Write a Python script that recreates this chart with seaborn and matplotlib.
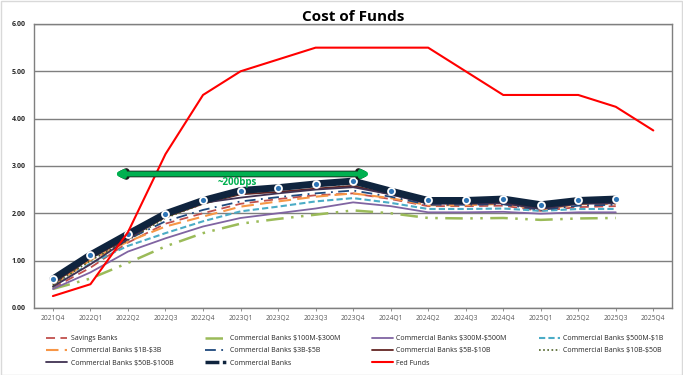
import numpy as np
import pandas as pd
import seaborn as sns
import matplotlib.pyplot as plt
from matplotlib.patches import FancyArrowPatch, Rectangle
from matplotlib.lines import Line2D

quarters = ['2021Q4', '2022Q1', '2022Q2', '2022Q3', '2022Q4', '2023Q1', '2023Q2', '2023Q3',
            '2023Q4', '2024Q1', '2024Q2', '2024Q3', '2024Q4', '2025Q1', '2025Q2', '2025Q3', '2025Q4']

savings_banks = [0.42, 0.85, 1.38, 1.78, 2.00, 2.20, 2.30, 2.38, 2.42, 2.30, 2.15, 2.15, 2.16, 2.05, 2.13, 2.15]
cb_100m_300m = [0.40, 0.62, 0.95, 1.30, 1.58, 1.78, 1.88, 1.97, 2.06, 2.00, 1.90, 1.89, 1.90, 1.86, 1.89, 1.90]
cb_300m_500m = [0.40, 0.75, 1.19, 1.47, 1.72, 1.90, 2.00, 2.10, 2.23, 2.15, 2.02, 2.02, 2.03, 1.99, 2.02, 2.02]
cb_500m_1b = [0.45, 0.94, 1.31, 1.58, 1.83, 2.04, 2.14, 2.25, 2.32, 2.22, 2.09, 2.09, 2.10, 2.05, 2.09, 2.09]
cb_1b_3b = [0.47, 1.01, 1.40, 1.72, 1.93, 2.14, 2.25, 2.35, 2.42, 2.32, 2.17, 2.17, 2.20, 2.08, 2.19, 2.20]
cb_3b_5b = [0.50, 1.05, 1.45, 1.83, 2.07, 2.25, 2.34, 2.42, 2.48, 2.35, 2.18, 2.18, 2.19, 2.07, 2.16, 2.18]
cb_5b_10b = [0.52, 1.05, 1.47, 1.92, 2.20, 2.40, 2.45, 2.52, 2.58, 2.40, 2.22, 2.22, 2.23, 2.10, 2.21, 2.23]
cb_10b_50b = [0.48, 1.00, 1.43, 1.90, 2.20, 2.42, 2.50, 2.58, 2.62, 2.44, 2.25, 2.25, 2.27, 2.14, 2.25, 2.27]
cb_50b_100b = [0.45, 0.92, 1.45, 1.95, 2.22, 2.33, 2.42, 2.50, 2.55, 2.40, 2.20, 2.20, 2.21, 2.09, 2.20, 2.21]
commercial_banks = [0.61, 1.12, 1.56, 1.99, 2.27, 2.48, 2.54, 2.62, 2.68, 2.47, 2.27, 2.27, 2.30, 2.18, 2.27, 2.30]
fed_funds = [0.25, 0.50, 1.60, 3.25, 4.50, 5.00, 5.25, 5.50, 5.50, 5.50, 5.50, 5.00, 4.50, 4.50, 4.50, 4.25, 3.75]

series = [
    ('Savings Banks', savings_banks, '#C0504D', (0, (5, 3)), 1.3),
    (r'Commercial Banks \$100M-\$300M', cb_100m_300m, '#9BBB59', (0, (7, 3, 1, 3, 1, 3)), 1.8),
    (r'Commercial Banks \$300M-\$500M', cb_300m_500m, '#8064A2', '-', 1.3),
    (r'Commercial Banks \$500M-\$1B', cb_500m_1b, '#4BACC6', (0, (3, 1.5)), 1.5),
    (r'Commercial Banks \$1B-\$3B', cb_1b_3b, '#F79646', (0, (6, 3)), 1.5),
    (r'Commercial Banks \$3B-\$5B', cb_3b_5b, '#1F497D', (0, (6, 3, 1, 3)), 1.3),
    (r'Commercial Banks \$5B-\$10B', cb_5b_10b, '#632523', '-', 1.3),
    (r'Commercial Banks \$10B-\$50B', cb_10b_50b, '#4F6228', (0, (1, 1.5)), 1.2),
    (r'Commercial Banks \$50B-\$100B', cb_50b_100b, '#403152', '-', 1.3),
]

sns.set_theme(style='white')
plt.rcParams['font.family'] = ['Open Sans', 'DejaVu Sans']

fig = plt.figure(figsize=(6.83, 3.75), dpi=100)
ax = fig.add_axes([0.050, 0.179, 0.934, 0.757])

for name, vals, color, ls, lw in series:
    df = pd.DataFrame({'x': np.arange(len(vals)), 'rate': vals})
    sns.lineplot(data=df, x='x', y='rate', ax=ax, color=color, linestyle=ls,
                 linewidth=lw, label=name, zorder=3)

df_cb = pd.DataFrame({'x': np.arange(len(commercial_banks)), 'rate': commercial_banks})
sns.lineplot(data=df_cb, x='x', y='rate', ax=ax, color='#0F243E', linestyle='-',
             linewidth=5, marker='o', markersize=5, markerfacecolor='#2E75B6',
             markeredgecolor='white', markeredgewidth=1.3, label='Commercial Banks', zorder=4)

df_ff = pd.DataFrame({'x': np.arange(len(fed_funds)), 'rate': fed_funds})
sns.lineplot(data=df_ff, x='x', y='rate', ax=ax, color='#FF0000', linewidth=1.5,
             label='Fed Funds', zorder=5)

# ~200bps arrow
arrow = FancyArrowPatch((1.55, 2.83), (8.55, 2.83), arrowstyle='<|-|>', mutation_scale=9,
                        color='#00B050', linewidth=3.6, zorder=6)
arrow_edge = FancyArrowPatch((1.55, 2.83), (8.55, 2.83), arrowstyle='<|-|>', mutation_scale=9,
                             color='#1a1a1a', linewidth=4.8, zorder=5.9)
ax.add_patch(arrow_edge)
ax.add_patch(arrow)
ax.text(4.9, 2.64, '~200bps', color='#00B050', fontsize=7, fontweight='bold',
        ha='center', va='center', zorder=7)

ax.set_xlim(-0.5, len(quarters) - 0.5)
ax.set_ylim(0, 6)
ax.set_xticks(np.arange(len(quarters)))
ax.set_xticklabels(quarters, fontsize=4.8, color='#595959')
ax.set_yticks(np.arange(0, 7, 1))
ax.set_yticklabels([f'{v:.2f}' for v in range(7)], fontsize=5, fontweight='bold', color='#262626')
ax.set_xlabel('')
ax.set_ylabel('')
ax.tick_params(axis='x', length=2, width=0.6, color='#808080', pad=3, direction='out', bottom=True)
ax.tick_params(axis='y', length=0, pad=6)
ax.yaxis.grid(True, color='#7F7F7F', linewidth=1.0)
ax.set_axisbelow(True)
for s in ax.spines.values():
    s.set_color('#7F7F7F')
    s.set_linewidth(1.0)

ax.set_title('Cost of Funds', fontsize=11, fontweight='bold', pad=2, color='black')

handles, labels = ax.get_legend_handles_labels()
handles[9] = Line2D([], [], color='#0F243E', linewidth=2.5, linestyle=(0, (4, 1, 1, 1)))
order = [0, 4, 8, 1, 5, 9, 2, 6, 10, 3, 7]
ax.get_legend().remove()
fig.legend([handles[i] for i in order], [labels[i] for i in order], loc='upper left',
           bbox_to_anchor=(0.068, 0.106), ncol=4, frameon=False, fontsize=5,
           handlelength=3.0, handletextpad=0.5, columnspacing=4.6, labelspacing=0.75,
           borderaxespad=0, borderpad=0)

fig.patches.append(Rectangle((0.001, 0.001), 0.997, 0.997, transform=fig.transFigure,
                             fill=False, edgecolor='#D9D9D9', linewidth=1))

fig.savefig('out.png', dpi=100)
